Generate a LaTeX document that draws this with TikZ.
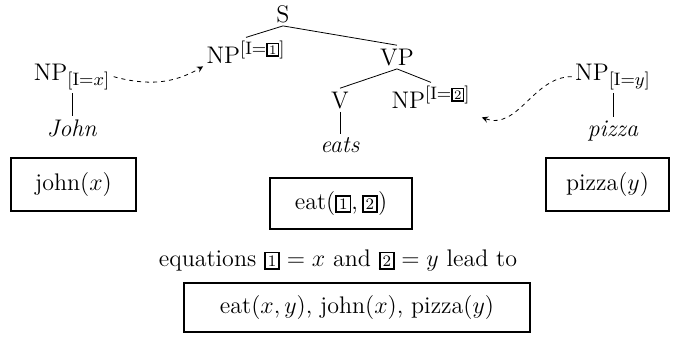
\documentclass[tikz,border=0pt]{standalone}
\usepackage{amsmath}
\usepackage{tikz}
\DeclareMathSizes{12}{12}{9.5}{7}

\newcommand{\numbox}[1]{{\setlength{\fboxsep}{1pt}\setlength{\fboxrule}{0.9pt}\fbox{\fontsize{8}{8}\selectfont #1}}}
\newcommand{\supbox}[1]{\mbox{\setlength{\fboxsep}{0.6pt}\setlength{\fboxrule}{0.8pt}\fbox{\fontsize{6.5}{6.5}\selectfont #1}}}

\begin{document}
\begin{tikzpicture}[x=0.5pt,y=-0.5pt,>=stealth,
  lbl/.style={font=\fontsize{12}{14}\selectfont,inner sep=1.5pt},
  sem/.style={lbl,draw,line width=1.3pt,inner sep=2pt},
  link/.style={->,dash pattern=on 2pt off 2pt,thin}]
  \useasboundingbox (0,0) rectangle (680,337);
  \node[lbl,anchor=base] (S) at (283,22) {S};
  \node[lbl,anchor=base] (NP1) at (246,63) {NP$^{[\mathrm{I}=\supbox{1}]}$};
  \node[lbl,anchor=base] (VP) at (397,65) {VP};
  \node[lbl,anchor=base] (V) at (340,108) {V};
  \node[lbl,anchor=base] (NP2) at (431,108) {NP$^{[\mathrm{I}=\supbox{2}]}$};
  \node[lbl,anchor=base] (eats) at (340,152) {\textit{eats}};
  \node[lbl,anchor=base] (NPx) at (72,80) {NP$_{[\mathrm{I}=x]}$};
  \node[lbl,anchor=base] (John) at (72,136) {\textit{John}};
  \node[lbl,anchor=base] (NPy) at (613,80) {NP$_{[\mathrm{I}=y]}$};
  \node[lbl,anchor=base] (pizza) at (613,136) {\textit{pizza}};
  \draw (S.south) -- (NP1.north);
  \draw (S.south) -- (VP.north);
  \draw (VP.south) -- (V.north);
  \draw (VP.south) -- (NP2.north);
  \draw (V.south) -- (eats.north);
  \draw (NPx.south) -- (John.north);
  \draw (NPy.south) -- (pizza.north);
  \coordinate (tip) at ([xshift=4pt,yshift=-3pt]NP2.south east);
  \draw[link] (NPx.east) to[out=-15,in=210] (NP1.south west);
  \draw[link] (NPy.west) to[out=180,in=-20] (tip);
  \node[sem,minimum width=62.5pt,minimum height=26.5pt] (john) at (73.5,184.5) {john$(x)$};
  \node[sem,minimum width=71pt,minimum height=25.5pt] (eat) at (341,203.5) {eat(\numbox{1},\,\numbox{2})};
  \node[sem,minimum width=61.5pt,minimum height=26.5pt] (pz) at (607.5,184.5) {pizza$(y)$};
  \node[lbl,anchor=base] (eqs) at (338,266) {equations $\numbox{1} = x$ and $\numbox{2} = y$ lead to};
  \node[sem,minimum width=173pt,minimum height=24.5pt] (all) at (357,307.5) {eat$(x,y)$, john$(x)$, pizza$(y)$};
\end{tikzpicture}
\end{document}
